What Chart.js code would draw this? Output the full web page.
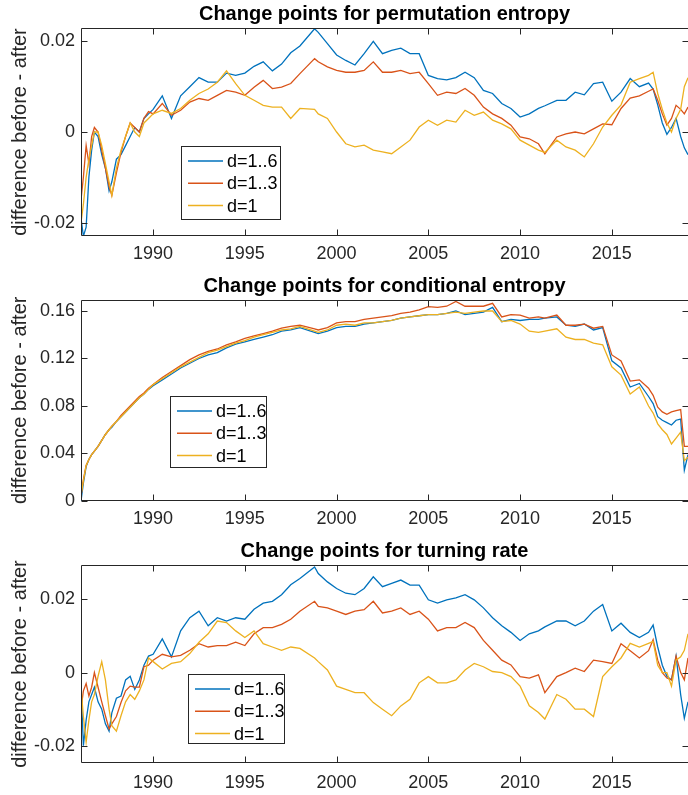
<!DOCTYPE html>
<html>
<head>
<meta charset="utf-8">
<title>Change points</title>
<script src="https://cdn.jsdelivr.net/npm/chart.js@4.4.1/dist/chart.umd.min.js"></script>
<style>
    html, body { margin: 0; padding: 0; background: #fff; }
    #wrap { position: relative; width: 688px; height: 795px; overflow: hidden; }
    #wrap canvas { position: absolute; left: 0; }
</style>
</head>
<body>
<div id="wrap">
    <canvas id="chartPerm" width="688" height="265" style="top:0px;width:688px;height:265px"></canvas>
    <canvas id="chartCond" width="688" height="265" style="top:265px;width:688px;height:265px"></canvas>
    <canvas id="chartTurn" width="688" height="265" style="top:530px;width:688px;height:265px"></canvas>
</div>
<script>
// ---- data ----
const years = [
    1986.07, 1986.2, 1986.35, 1986.5, 1986.65, 1986.8, 1987.0, 1987.2, 1987.4, 1987.6, 1987.75, 1988.0, 1988.25, 1988.5, 1988.75, 1989.0, 1989.25, 1989.5, 1989.75, 1990.0,
    1990.5, 1991.0, 1991.5, 1992.0, 1992.5, 1993.0, 1993.5, 1994.0, 1994.5, 1995.0, 1995.5, 1996.0, 1996.5, 1997.0, 1997.5, 1998.0, 1998.8, 1999.0, 1999.5, 2000.0,
    2000.5, 2001.0, 2001.5, 2002.0, 2002.5, 2003.0, 2003.5, 2004.0, 2004.5, 2005.0, 2005.5, 2006.0, 2006.5, 2007.0, 2007.5, 2008.0, 2008.5, 2009.0, 2009.5, 2010.0,
    2010.5, 2011.0, 2011.35, 2012.0, 2012.5, 2013.0, 2013.5, 2014.0, 2014.5, 2015.0, 2015.5, 2016.0, 2016.5, 2017.0, 2017.25, 2017.5, 2017.75, 2018.0, 2018.25, 2018.5,
    2018.75, 2018.95, 2019.15
];

const seriesLabels = ['d=1..6', 'd=1..3', 'd=1'];
const seriesColors = ['#0072BD', '#D95319', '#EDB120'];

const xTicks = [1990, 1995, 2000, 2005, 2010, 2015];
const permTicks = [-0.02, 0, 0.02];
const condTicks = [0, 0.04, 0.08, 0.12, 0.16];
const turnTicks = [-0.02, 0, 0.02];

// permutation entropy
const permD16 = [
    -0.019, -0.023, -0.021, -0.010, -0.004, 0.000, -0.001, -0.005, -0.008, -0.013, -0.011, -0.006, -0.005, -0.003, -0.001, 0.001, 0.000, 0.003, 0.004, 0.005,
    0.008, 0.003, 0.008, 0.010, 0.012, 0.011, 0.011, 0.013, 0.0125, 0.013, 0.0145, 0.0155, 0.0135, 0.015, 0.0175, 0.019, 0.0228, 0.022, 0.0195, 0.017,
    0.0158, 0.0148, 0.0173, 0.020, 0.0173, 0.018, 0.0185, 0.0173, 0.0173, 0.0125, 0.0118, 0.0115, 0.012, 0.0132, 0.012, 0.0092, 0.0085, 0.0063, 0.0052, 0.0033,
    0.004, 0.0052, 0.0058, 0.007, 0.007, 0.0088, 0.0082, 0.0107, 0.011, 0.0068, 0.0088, 0.0118, 0.010, 0.0108, 0.0095, 0.006, 0.002, -0.0005, 0.001, 0.003,
    -0.001, -0.0035, -0.005
];
const permD13 = [
    -0.015, -0.010, -0.003, -0.007, -0.001, 0.001, 0.000, -0.004, -0.008, -0.012, -0.014, -0.009, -0.0045, -0.001, 0.002, 0.001, 0.000, 0.003, 0.0045, 0.004,
    0.0063, 0.0037, 0.0048, 0.0066, 0.0074, 0.007, 0.0081, 0.0092, 0.0088, 0.0081, 0.0099, 0.0114, 0.0096, 0.0099, 0.0107, 0.0129, 0.0162, 0.0155, 0.0144, 0.0136,
    0.0132, 0.0132, 0.0136, 0.0155, 0.0132, 0.0132, 0.0136, 0.0129, 0.0132, 0.0107, 0.0081, 0.0088, 0.0085, 0.0096, 0.0081, 0.0055, 0.004, 0.003, 0.0015, -0.0011,
    -0.0015, -0.0026, -0.0048, -0.0011, -0.0004, 0.000, -0.0004, 0.0007, 0.0018, 0.0016, 0.0052, 0.0075, 0.008, 0.009, 0.0095, 0.007, 0.004, 0.0015, 0.003, 0.0059,
    0.005, 0.004, 0.0055
];
const permD1 = [
    -0.020, -0.016, -0.010, -0.006, -0.003, 0.000, 0.000, -0.003, -0.007, -0.011, -0.014, -0.008, -0.004, -0.001, 0.002, 0.000, -0.001, 0.002, 0.003, 0.004,
    0.0048, 0.0041, 0.0052, 0.007, 0.0085, 0.0095, 0.011, 0.0135, 0.0107, 0.0081, 0.007, 0.0059, 0.0055, 0.0055, 0.003, 0.0052, 0.005, 0.004, 0.003, 0.000,
    -0.0026, -0.0033, -0.0029, -0.004, -0.0044, -0.0048, -0.0033, -0.0018, 0.0011, 0.0026, 0.0015, 0.0026, 0.0022, 0.0048, 0.0037, 0.0044, 0.0026, 0.0018, 0.0007, -0.0018,
    -0.0029, -0.004, -0.0045, -0.0018, -0.0033, -0.004, -0.0055, -0.0026, 0.0011, 0.0037, 0.006, 0.011, 0.0118, 0.0125, 0.0132, 0.0085, 0.005, 0.002, 0.000, 0.003,
    0.005, 0.010, 0.012
];

// conditional entropy
const condD16 = [
    0.000, 0.015, 0.029, 0.035, 0.039, 0.042, 0.046, 0.051, 0.056, 0.060, 0.062, 0.067, 0.071, 0.075, 0.079, 0.083, 0.087, 0.090, 0.094, 0.097,
    0.102, 0.107, 0.112, 0.116, 0.120, 0.123, 0.125, 0.129, 0.132, 0.134, 0.136, 0.138, 0.140, 0.143, 0.144, 0.146, 0.142, 0.141, 0.143, 0.146,
    0.147, 0.147, 0.149, 0.150, 0.151, 0.152, 0.154, 0.155, 0.156, 0.157, 0.157, 0.158, 0.160, 0.157, 0.158, 0.159, 0.163, 0.151, 0.153, 0.152,
    0.153, 0.153, 0.154, 0.155, 0.148, 0.147, 0.149, 0.144, 0.146, 0.118, 0.112, 0.096, 0.099, 0.088, 0.082, 0.071, 0.068, 0.066, 0.064, 0.068,
    0.069, 0.026, 0.039
];
const condD13 = [
    0.004, 0.018, 0.030, 0.035, 0.039, 0.042, 0.046, 0.051, 0.056, 0.060, 0.063, 0.067, 0.072, 0.076, 0.080, 0.084, 0.088, 0.091, 0.095, 0.098,
    0.104, 0.109, 0.114, 0.119, 0.123, 0.126, 0.128, 0.1315, 0.134, 0.137, 0.139, 0.141, 0.143, 0.1455, 0.147, 0.148, 0.145, 0.144, 0.146, 0.150,
    0.151, 0.151, 0.153, 0.154, 0.155, 0.156, 0.158, 0.159, 0.161, 0.1636, 0.163, 0.164, 0.168, 0.164, 0.164, 0.164, 0.1665, 0.155, 0.157, 0.1566,
    0.154, 0.155, 0.154, 0.1566, 0.148, 0.148, 0.149, 0.1455, 0.147, 0.123, 0.118, 0.101, 0.102, 0.095, 0.089, 0.079, 0.075, 0.073, 0.075, 0.076,
    0.077, 0.046, 0.046
];
const condD1 = [
    0.005, 0.017, 0.030, 0.035, 0.039, 0.042, 0.046, 0.051, 0.056, 0.060, 0.063, 0.067, 0.071, 0.075, 0.079, 0.083, 0.087, 0.090, 0.094, 0.098,
    0.103, 0.108, 0.113, 0.117, 0.121, 0.125, 0.127, 0.130, 0.133, 0.135, 0.138, 0.140, 0.142, 0.144, 0.145, 0.147, 0.143, 0.142, 0.144, 0.148,
    0.149, 0.148, 0.150, 0.150, 0.151, 0.152, 0.154, 0.155, 0.156, 0.157, 0.157, 0.158, 0.159, 0.158, 0.159, 0.160, 0.160, 0.151, 0.152, 0.149,
    0.143, 0.142, 0.143, 0.145, 0.138, 0.136, 0.136, 0.133, 0.1315, 0.113, 0.106, 0.090, 0.096, 0.080, 0.074, 0.065, 0.060, 0.056, 0.048, 0.053,
    0.058, 0.034, 0.037
];

// turning rate
const turnD16 = [
    -0.003, -0.020, -0.013, -0.008, -0.006, -0.004, -0.008, -0.010, -0.014, -0.016, -0.011, -0.007, -0.0064, -0.002, -0.001, -0.0046, -0.002, 0.002, 0.0045, 0.005,
    0.0092, 0.0043, 0.0114, 0.015, 0.0168, 0.0128, 0.015, 0.0141, 0.015, 0.0146, 0.0173, 0.019, 0.0195, 0.0213, 0.024, 0.0257, 0.0289, 0.0271, 0.0248, 0.023,
    0.0217, 0.0213, 0.023, 0.0262, 0.0235, 0.0244, 0.0253, 0.0239, 0.0239, 0.0199, 0.019, 0.0199, 0.0204, 0.0213, 0.0199, 0.0177, 0.015, 0.0128, 0.011, 0.0088,
    0.0106, 0.0114, 0.0125, 0.0141, 0.0141, 0.0128, 0.0141, 0.0168, 0.0186, 0.0114, 0.0135, 0.011, 0.0096, 0.011, 0.013, 0.007, 0.002, -0.001, -0.002, 0.0045,
    -0.006, -0.0125, -0.008
];
const turnD13 = [
    -0.010, -0.005, -0.003, -0.0064, -0.004, 0.000, -0.004, -0.008, -0.0118, -0.0154, -0.014, -0.012, -0.0082, -0.005, -0.0037, -0.004, -0.004, 0.0016, 0.002, 0.0034,
    0.005, 0.0043, 0.0047, 0.0061, 0.0079, 0.007, 0.0074, 0.0074, 0.0083, 0.0074, 0.0106, 0.0123, 0.0123, 0.0132, 0.0146, 0.0168, 0.0195, 0.0181, 0.0177, 0.0168,
    0.0159, 0.0168, 0.0172, 0.0195, 0.0163, 0.0168, 0.0177, 0.0159, 0.0168, 0.0146, 0.0114, 0.0123, 0.0123, 0.0137, 0.0123, 0.0088, 0.0061, 0.0034, 0.0021, -0.0011,
    -0.0015, -0.0006, -0.0055, -0.0011, 0.000, 0.0012, 0.0003, 0.0034, 0.003, 0.0025, 0.0079, 0.006, 0.004, 0.006, 0.009, 0.0034, 0.000, -0.0015, -0.002, 0.0045,
    0.000, -0.002, 0.004
];
const turnD1 = [
    -0.004, -0.012, -0.019, -0.013, -0.008, -0.006, -0.001, 0.003, -0.002, -0.010, -0.0145, -0.016, -0.0118, -0.008, -0.006, -0.0073, -0.005, -0.002, 0.004, 0.003,
    0.001, 0.0025, 0.003, 0.0052, 0.0083, 0.0106, 0.0141, 0.0137, 0.0114, 0.0096, 0.0114, 0.0079, 0.007, 0.0061, 0.007, 0.0066, 0.004, 0.003, 0.0007, -0.0037,
    -0.0046, -0.0055, -0.0055, -0.0082, -0.010, -0.0118, -0.0091, -0.0073, -0.0028, -0.0011, -0.0028, -0.0028, -0.002, 0.0007, 0.0025, 0.0016, 0.0003, 0.000, -0.0011, -0.0037,
    -0.0091, -0.0109, -0.0127, -0.006, -0.0073, -0.010, -0.010, -0.012, -0.0011, 0.0016, 0.004, 0.008, 0.007, 0.008, 0.0085, 0.002, 0.000, 0.000, -0.0037, 0.0034,
    0.0043, 0.0061, 0.0106
];

const AXIS_COLOR = '#262626';
const TICK_LEN = 6;
const Y_AXIS_WIDTH = 81;
const FONT_FAMILY = "'Liberation Sans', Arial, Helvetica, sans-serif";

Chart.defaults.font.family = FONT_FAMILY;
Chart.defaults.color = AXIS_COLOR;

// MATLAB style box with inward tick marks
const boxPlugin = {
    id: 'matlabBox',
    afterDatasetsDraw(chart) {
        const { ctx, chartArea: a, scales } = chart;
        const L = Math.round(a.left) + 0.5, R = Math.round(a.right) + 0.5;
        const T = Math.round(a.top) + 0.5, B = Math.round(a.bottom) - 0.5;
        ctx.save();
        ctx.strokeStyle = AXIS_COLOR;
        ctx.lineWidth = 1;
        ctx.beginPath();
        ctx.rect(L, T, R - L, B - T);
        scales.x.ticks.forEach(t => {
            const px = Math.round(scales.x.getPixelForValue(t.value)) + 0.5;
            ctx.moveTo(px, B); ctx.lineTo(px, B - TICK_LEN);
            ctx.moveTo(px, T); ctx.lineTo(px, T + TICK_LEN);
        });
        scales.y.ticks.forEach(t => {
            const py = Math.round(scales.y.getPixelForValue(t.value)) + 0.5;
            ctx.moveTo(L, py); ctx.lineTo(L + TICK_LEN, py);
            ctx.moveTo(R, py); ctx.lineTo(R - TICK_LEN, py);
        });
        ctx.stroke();
        ctx.restore();
    }
};

// title centred over the axes (not over the whole canvas)
const axesTitlePlugin = {
    id: 'axesTitle',
    afterDraw(chart, args, opts) {
        const { ctx, chartArea: a } = chart;
        ctx.save();
        ctx.font = 'bold 20px ' + FONT_FAMILY;
        ctx.fillStyle = '#000';
        ctx.textAlign = 'center';
        ctx.textBaseline = 'middle';
        ctx.fillText(opts.text, (a.left + a.right) / 2, opts.y);
        ctx.restore();
    }
};

// legend box placed inside the axes
const boxLegendPlugin = {
    id: 'boxLegend',
    afterDraw(chart, args, opts) {
        const { ctx } = chart;
        ctx.save();
        ctx.fillStyle = '#fff';
        ctx.fillRect(opts.x, opts.y, opts.w, opts.h);
        ctx.strokeStyle = AXIS_COLOR;
        ctx.lineWidth = 1;
        ctx.strokeRect(Math.round(opts.x) + 0.5, Math.round(opts.y) + 0.5, Math.round(opts.w), Math.round(opts.h));
        ctx.font = '18px ' + FONT_FAMILY;
        ctx.textBaseline = 'middle';
        ctx.textAlign = 'left';
        chart.data.datasets.forEach((ds, i) => {
            const y = opts.y + 15 + i * 22.3;
            ctx.strokeStyle = ds.borderColor;
            ctx.lineWidth = 1.5;
            ctx.beginPath();
            ctx.moveTo(opts.x + 7, y);
            ctx.lineTo(opts.x + 42, y);
            ctx.stroke();
            ctx.fillStyle = '#000';
            ctx.fillText(ds.label, opts.x + 46, y + 1);
        });
        ctx.restore();
    }
};

function fmtTick(v) {
    return String(Number(v.toFixed(4)));
}

function buildPanel(id, cfg) {
    const ctx = document.getElementById(id).getContext('2d');
    return new Chart(ctx, {
        type: 'line',
        data: {
            datasets: cfg.series.map((s, i) => ({
                label: seriesLabels[i],
                data: years.map((x, k) => ({ x: x, y: s[k] })),
                borderColor: seriesColors[i],
                borderWidth: 1.3,
                pointRadius: 0,
                tension: 0,
                fill: false,
                order: 3 - i  // yellow on top, like MATLAB plot order
            }))
        },
        options: {
            responsive: false,
            animation: false,
            events: [],
            layout: { padding: { top: cfg.plotTop, left: 0, right: 0, bottom: 0 } },
            plugins: {
                legend: { display: false },
                tooltip: { enabled: false },
                title: { display: false },
                axesTitle: { text: cfg.title, y: cfg.titleY },
                boxLegend: cfg.legend
            },
            scales: {
                x: {
                    type: 'linear',
                    min: 1986.07,
                    max: 2019.15,
                    grid: { display: false, drawTicks: false },
                    border: { display: false },
                    afterBuildTicks: s => { s.ticks = xTicks.map(v => ({ value: v })); },
                    afterFit: s => { s.height = cfg.xAxisHeight; },
                    ticks: {
                        color: AXIS_COLOR,
                        font: { size: 18 },
                        padding: cfg.xTickPad,
                        maxRotation: 0,
                        autoSkip: false,
                        callback: v => String(v)
                    }
                },
                y: {
                    min: cfg.yMin,
                    max: cfg.yMax,
                    grid: { display: false, drawTicks: false },
                    border: { display: false },
                    afterBuildTicks: s => { s.ticks = cfg.yTicks.map(v => ({ value: v })); },
                    afterFit: s => { s.width = Y_AXIS_WIDTH; },
                    ticks: {
                        color: AXIS_COLOR,
                        font: { size: 18 },
                        padding: 6,
                        autoSkip: false,
                        callback: v => fmtTick(v)
                    },
                    title: {
                        display: true,
                        text: 'difference before - after',
                        color: AXIS_COLOR,
                        font: { size: 20 },
                        padding: { top: 8, bottom: 0 }
                    }
                }
            }
        },
        plugins: [boxPlugin, axesTitlePlugin, boxLegendPlugin]
    });
}

document.addEventListener('DOMContentLoaded', () => {
    buildPanel('chartPerm', {
        title: 'Change points for permutation entropy',
        series: [permD16, permD13, permD1],
        yMin: -0.0229, yMax: 0.0229, yTicks: permTicks,
        plotTop: 28.3, titleY: 14,
        xAxisHeight: 29.3, xTickPad: 7.5,
        legend: { x: 181, y: 146, w: 99, h: 73 }
    });
    buildPanel('chartCond', {
        title: 'Change points for conditional entropy',
        series: [condD16, condD13, condD1],
        yMin: 0, yMax: 0.1695, yTicks: condTicks,
        plotTop: 34.7, titleY: 21,
        xAxisHeight: 29, xTickPad: 7.2,
        legend: { x: 170, y: 131, w: 96, h: 71 }
    });
    buildPanel('chartTurn', {
        title: 'Change points for turning rate',
        series: [turnD16, turnD13, turnD1],
        yMin: -0.0248, yMax: 0.0295, yTicks: turnTicks,
        plotTop: 34.7, titleY: 21,
        xAxisHeight: 31.7, xTickPad: 9,
        legend: { x: 188, y: 144, w: 96, h: 69 }
    });
});
</script>
</body>
</html>
